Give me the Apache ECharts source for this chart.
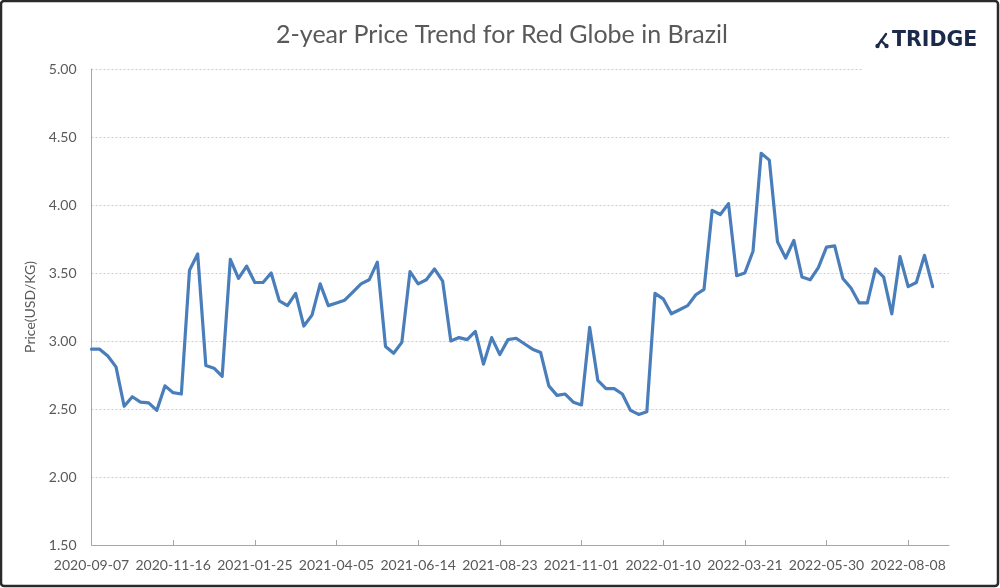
<!DOCTYPE html>
<html>
<head>
<meta charset="utf-8">
<script src="https://cdn.jsdelivr.net/npm/echarts@6/dist/echarts.min.js"></script>
<style>
html,body{margin:0;padding:0;background:#fff;}
#chart{width:1000px;height:588px;}
</style>
</head>
<body>
<div id="chart"></div>
<script>
const titleText = '2-year Price Trend for Red Globe in Brazil';
const yAxisName = 'Price(USD/KG)';
const dates = [
'2020-09-07','2020-09-14','2020-09-21','2020-09-28','2020-10-05','2020-10-12','2020-10-19','2020-10-26','2020-11-02','2020-11-09',
'2020-11-16','2020-11-23','2020-11-30','2020-12-07','2020-12-14','2020-12-21','2020-12-28','2021-01-04','2021-01-11','2021-01-18',
'2021-01-25','2021-02-01','2021-02-08','2021-02-15','2021-02-22','2021-03-01','2021-03-08','2021-03-15','2021-03-22','2021-03-29',
'2021-04-05','2021-04-12','2021-04-19','2021-04-26','2021-05-03','2021-05-10','2021-05-17','2021-05-24','2021-05-31','2021-06-07',
'2021-06-14','2021-06-21','2021-06-28','2021-07-05','2021-07-12','2021-07-19','2021-07-26','2021-08-02','2021-08-09','2021-08-16',
'2021-08-23','2021-08-30','2021-09-06','2021-09-13','2021-09-20','2021-09-27','2021-10-04','2021-10-11','2021-10-18','2021-10-25',
'2021-11-01','2021-11-08','2021-11-15','2021-11-22','2021-11-29','2021-12-06','2021-12-13','2021-12-20','2021-12-27','2022-01-03',
'2022-01-10','2022-01-17','2022-01-24','2022-01-31','2022-02-07','2022-02-14','2022-02-21','2022-02-28','2022-03-07','2022-03-14',
'2022-03-21','2022-03-28','2022-04-04','2022-04-11','2022-04-18','2022-04-25','2022-05-02','2022-05-09','2022-05-16','2022-05-23',
'2022-05-30','2022-06-06','2022-06-13','2022-06-20','2022-06-27','2022-07-04','2022-07-11','2022-07-18','2022-07-25','2022-08-01',
'2022-08-08','2022-08-15','2022-08-22','2022-08-29','2022-09-05','2022-09-12'
];
const prices = [
2.94,2.94,2.89,2.81,2.52,2.59,2.55,2.545,2.49,2.67,
2.62,2.61,3.52,3.64,2.82,2.80,2.74,3.60,3.46,3.55,
3.43,3.43,3.50,3.295,3.26,3.35,3.11,3.19,3.42,3.26,
3.28,3.30,3.36,3.42,3.45,3.58,2.96,2.91,2.99,3.51,
3.42,3.45,3.53,3.44,3.00,3.025,3.01,3.07,2.83,3.025,
2.90,3.01,3.02,2.98,2.94,2.915,2.67,2.60,2.61,2.55,
2.53,3.10,2.71,2.65,2.65,2.61,2.49,2.46,2.48,3.35,
3.31,3.20,3.23,3.26,3.34,3.38,3.96,3.93,4.01,3.48,
3.50,3.66,4.38,4.33,3.73,3.61,3.74,3.47,3.45,3.54,
3.69,3.70,3.46,3.39,3.28,3.28,3.53,3.47,3.20,3.62,
3.40,3.43,3.63,3.40
];
const yMin = 1.5, yMax = 5, yStep = 0.5;
const labelEvery = 10;

const chart = echarts.init(document.getElementById('chart'), null, {renderer:'canvas'});
const textColor = '#595959';
const fontFam = 'Lato, "Open Sans", sans-serif';
const showIdx = (i) => i % labelEvery === 0 && i <= 100;

chart.setOption({
  animation: false,
  backgroundColor: '#fff',
  title: {
    text: titleText,
    left: 497, top: 17, textAlign: 'center',
    textStyle: {fontFamily: fontFam, fontSize: 25, fontWeight: 'normal', color: textColor}
  },
  grid: {left: 91.5, right: 51, top: 69, bottom: 43, containLabel: false},
  xAxis: {
    type: 'category',
    data: dates,
    boundaryGap: false,
    axisLine: {show: true, lineStyle: {color: '#a6a6a6', width: 1}},
    axisTick: {show: true, inside: true, length: 5, interval: (i) => showIdx(i), lineStyle: {color: '#a6a6a6'}},
    axisLabel: {interval: (i) => showIdx(i), margin: 13, color: textColor, fontFamily: fontFam, fontSize: 14},
    splitLine: {show: false}
  },
  yAxis: {
    type: 'value',
    min: yMin, max: yMax, interval: yStep,
    name: yAxisName,
    nameLocation: 'middle',
    nameGap: 50,
    nameTextStyle: {color: textColor, fontFamily: fontFam, fontSize: 14},
    axisLine: {show: true, lineStyle: {color: '#a6a6a6', width: 1}},
    axisTick: {show: false},
    axisLabel: {formatter: (v) => v.toFixed(2), margin: 15, color: textColor, fontFamily: fontFam, fontSize: 14},
    splitLine: {show: true, lineStyle: {color: '#cfcfcf', type: [2, 2], width: 1}}
  },
  series: [{
    type: 'line',
    data: prices,
    symbol: 'none',
    lineStyle: {color: '#4a7ebb', width: 3.2, join: 'round', cap: 'round'},
    z: 3
  }],
  graphic: [
    {type: 'rect', z: 50, shape: {x: 862, y: 55, width: 90, height: 20}, style: {fill: '#fff'}},
    {type: 'group', z: 60, children: [
      {type: 'line', shape: {x1: 886, y1: 34, x2: 877.5, y2: 46}, style: {stroke: '#1b2a4a', lineWidth: 2.4, lineCap: 'round'}},
      {type: 'line', shape: {x1: 881, y1: 40.5, x2: 886.5, y2: 46}, style: {stroke: '#1b2a4a', lineWidth: 2.4, lineCap: 'round'}},
      {type: 'circle', shape: {cx: 877.5, cy: 46, r: 2.2}, style: {fill: '#1b2a4a'}},
      {type: 'circle', shape: {cx: 886.5, cy: 46, r: 2.2}, style: {fill: '#1b2a4a'}},
      {type: 'text', style: {x: 892, y: 40.5, text: 'TRIDGE', fill: '#1b2a4a', font: 'bold 20.5px "DejaVu Sans", sans-serif', textVerticalAlign: 'middle', verticalAlign: 'middle'}}
    ]},
    {type: 'rect', z: 100, shape: {x: 1, y: 1, width: 997, height: 585, r: 3}, style: {fill: 'none', stroke: '#2a2a2a', lineWidth: 2.5}}
  ]
});
</script>
</body>
</html>
